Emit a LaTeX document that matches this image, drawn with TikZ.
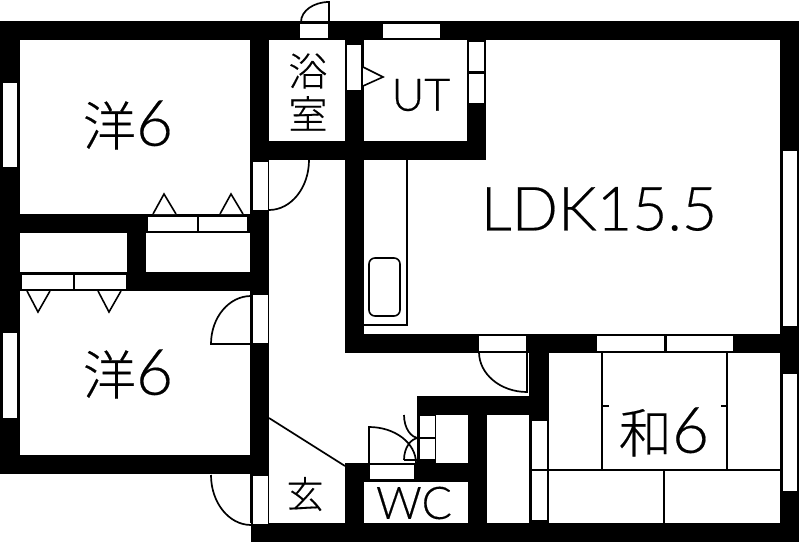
\documentclass[tikz,border=0pt]{standalone}
\usepackage{fontspec}
\setmainfont{Lato Light}[FakeBold=0.3]
\newfontfamily\cjk{Noto Sans CJK JP Light}[FakeBold=0.3]
\begin{document}
\begin{tikzpicture}[x=1pt,y=-1pt]
\tikzstyle{every node}=[inner sep=0pt, text=black]
\tikzstyle{wall}=[fill=black]
\tikzstyle{pane}=[fill=white]
\tikzstyle{swing}=[draw=black, line width=1.7pt]
\tikzstyle{thin}=[draw=black, line width=1.6pt]
\tikzstyle{hinge}=[draw=black, fill=white, line width=1.6pt, line join=miter]
\useasboundingbox (0,0) rectangle (800,543);
\fill[white] (0,0) rectangle (800,543);
\fill[wall] (0,21) rectangle (799,40);
\fill[wall] (0,21) rectangle (20,474);
\fill[wall] (780,21) rectangle (799,542);
\fill[wall] (251,523) rectangle (799,542);
\fill[wall] (0,455) rectangle (269,474);
\fill[wall] (20,214) rectangle (269,233);
\fill[wall] (250,21) rectangle (269,523);
\fill[wall] (250,141) rectangle (486,160);
\fill[wall] (345,21) rectangle (364,353);
\fill[wall] (467,21) rectangle (486,160);
\fill[wall] (127,233) rectangle (146,291);
\fill[wall] (127,272) rectangle (269,291);
\fill[wall] (345,334) rectangle (799,353);
\fill[wall] (345,464) rectangle (364,523);
\fill[wall] (345,463) rectangle (468,482);
\fill[wall] (417,396) rectangle (549,415);
\fill[wall] (417,396) rectangle (436,463);
\fill[wall] (468,396) rectangle (487,523);
\fill[wall] (529,353) rectangle (549,523);
\fill[wall] (20,272) rectangle (127,291);
\fill[pane] (300,24) rectangle (328,38);
\fill[pane] (383,24) rectangle (440,38);
\fill[pane] (3,83) rectangle (17,167);
\fill[pane] (3,333) rectangle (17,418);
\fill[pane] (783,151) rectangle (797,326);
\fill[pane] (783,374) rectangle (797,491);
\fill[pane] (347,45) rectangle (361,90);
\fill[pane] (469,42) rectangle (484,71);
\fill[pane] (469,74) rectangle (484,103);
\fill[pane] (253,162) rectangle (268,210);
\fill[pane] (253,295) rectangle (268,343);
\fill[pane] (253,476) rectangle (268,524);
\fill[pane] (148,217) rectangle (197,231);
\fill[pane] (199,217) rectangle (247,231);
\fill[pane] (22,275) rectangle (73,289);
\fill[pane] (75,275) rectangle (126,289);
\fill[pane] (479,336) rectangle (526,351);
\fill[pane] (597,336) rectangle (664,351);
\fill[pane] (667,336) rectangle (733,351);
\fill[pane] (532,421) rectangle (547,469);
\fill[pane] (532,471) rectangle (547,520);
\fill[pane] (370,465) rectangle (414,479);
\fill[pane] (420,416) rectangle (435,437);
\fill[pane] (420,439) rectangle (435,459);
\draw[swing] (329,22) -- (329,2) arc[start angle=270,end angle=180,x radius=28,y radius=20];
\draw[swing] (309,160) arc[start angle=0,end angle=90,x radius=40,y radius=50];
\draw[swing] (479,352) arc[start angle=180,end angle=90,x radius=48,y radius=40] -- (527,352);
\draw[swing] (251,296) -- (251,344) -- (211,344) arc[start angle=180,end angle=270,x radius=40,y radius=48];
\draw[swing] (211,475) arc[start angle=180,end angle=90,x radius=40,y radius=50];
\draw[swing] (369,463) -- (369,427) arc[start angle=270,end angle=360,x radius=47,y radius=36];
\draw[swing] (404,415) arc[start angle=180,end angle=90,x radius=15,y radius=23];
\draw[swing] (404,460) arc[start angle=180,end angle=270,x radius=15,y radius=22];
\draw[swing] (404,460) -- (419,460);
\draw[swing] (269,418) -- (345,466);
\draw[hinge] (363,67) -- (383,77) -- (363,86);
\draw[hinge] (153,214) -- (164,194) -- (176,214);
\draw[hinge] (220,214) -- (231,194) -- (243,214);
\draw[hinge] (27,291) -- (38,312) -- (50,291);
\draw[hinge] (98,291) -- (109,312) -- (121,291);
\draw[thin] (407,160) -- (407,325) -- (364,325);
\draw[thin, rounded corners=6pt] (369,258) rectangle (400,316);
\draw[thin] (602,353) -- (602,470);
\draw[thin] (727,353) -- (727,470);
\draw[thin] (532,470) -- (780,470);
\draw[thin] (664,470) -- (664,523);
\draw[thin] (602,406) -- (609,406);
\draw[thin] (721,406) -- (727,406);
\node (room1) at (128,125) {\fontsize{53}{53}\cjk 洋\fontsize{64}{64}\selectfont\rmfamily 6};
\node (room2) at (128,374) {\fontsize{53}{53}\cjk 洋\fontsize{64}{64}\selectfont\rmfamily 6};
\node (room3) at (664,432) {\fontsize{53}{53}\cjk 和\fontsize{64}{64}\selectfont\rmfamily 6};
\node (ldk) at (599,209) {\fontsize{61}{61}\selectfont LDK15.5};
\node (util) at (421,95) {\fontsize{45}{45}\selectfont UT};
\node (toilet) at (414,503) {\fontsize{45}{45}\selectfont WC};
\node (bath) [align=center, font=\fontsize{39}{43}\cjk] at (308,92) {浴\\室};
\node (entry) at (305,494) {\fontsize{37}{37}\cjk 玄};
\end{tikzpicture}
\end{document}
